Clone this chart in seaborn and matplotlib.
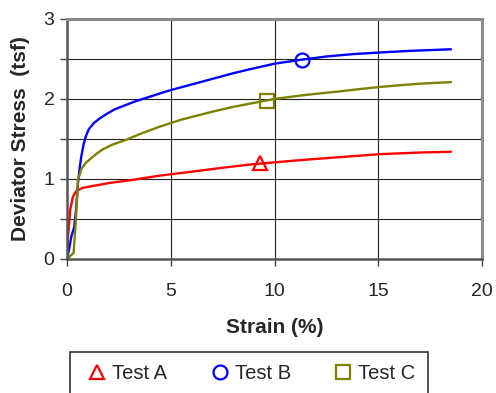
import matplotlib
matplotlib.use('Agg')
import matplotlib.pyplot as plt
from matplotlib.ticker import MultipleLocator, FixedLocator, NullFormatter
import seaborn as sns
import pandas as pd

# strain (%) vs deviator stress (tsf)
strain_a = [0, 0.05, 0.16, 0.29, 0.45, 0.77, 1.2, 2.06, 3.2, 4.43, 6.0, 7.5, 8.8, 11.0, 13.0, 15.1, 17.0, 18.5]
stress_a = [0, 0.28, 0.62, 0.78, 0.85, 0.89, 0.91, 0.95, 0.99, 1.04, 1.09, 1.14, 1.18, 1.23, 1.27, 1.31, 1.33, 1.34]

strain_b = [0, 0.1, 0.21, 0.35, 0.45, 0.53, 0.62, 0.69, 0.8, 0.92, 1.05, 1.3, 1.6, 1.9, 2.3, 2.8, 3.3, 3.9, 4.5, 5.0,
            6.0, 7.0, 8.0, 8.8, 10.0, 11.3, 12.5, 13.8, 15.1, 16.5, 17.5, 18.5]
stress_b = [0, 0.12, 0.28, 0.4, 0.65, 0.95, 1.15, 1.28, 1.43, 1.54, 1.62, 1.7, 1.76, 1.81, 1.87, 1.92, 1.97, 2.02, 2.07, 2.11,
            2.18, 2.25, 2.32, 2.37, 2.44, 2.49, 2.53, 2.56, 2.58, 2.6, 2.61, 2.62]

strain_c = [0, 0.21, 0.32, 0.42, 0.53, 0.69, 0.9, 1.17, 1.45, 1.73, 2.2, 2.86, 3.5, 4.43, 5.5, 7.0, 8.0, 8.8,
            10.0, 11.5, 13.0, 14.0, 15.1, 16.0, 17.0, 18.5]
stress_c = [0, 0.05, 0.075, 0.45, 0.99, 1.12, 1.2, 1.26, 1.32, 1.37, 1.43, 1.49, 1.56, 1.65, 1.74, 1.84, 1.9, 1.94,
            2.0, 2.05, 2.09, 2.12, 2.15, 2.17, 2.19, 2.21]

# single marker per test
mark_strain = [9.3, 11.3, 9.65]
mark_stress = [1.2, 2.49, 1.98]

tests = ['Test A', 'Test B', 'Test C']
colors = ['#ff0000', '#0000ff', '#808000']
markers = ['^', 'o', 's']

df = pd.concat([
    pd.DataFrame({'strain': strain_a, 'stress': stress_a, 'test': 'Test A'}),
    pd.DataFrame({'strain': strain_b, 'stress': stress_b, 'test': 'Test B'}),
    pd.DataFrame({'strain': strain_c, 'stress': stress_c, 'test': 'Test C'}),
])
marks = pd.DataFrame({'strain': mark_strain, 'stress': mark_stress, 'test': tests})

sns.set_style('white')
plt.rcParams['font.family'] = ['Liberation Sans', 'DejaVu Sans']

fig = plt.figure(figsize=(4.96, 3.93), dpi=100)
ax = fig.add_axes([0.135, 0.341, 0.837, 0.611])

sns.lineplot(data=df, x='strain', y='stress', hue='test', palette=colors,
             sort=False, estimator=None, linewidth=1.7, legend=False, ax=ax)

for i, t in enumerate(tests):
    row = marks[marks['test'] == t]
    ax.plot(row['strain'], row['stress'], linestyle='none', marker=markers[i],
            markersize=10, markerfacecolor='none', markeredgecolor=colors[i],
            markeredgewidth=1.6, label=t, zorder=5)

ax.set_xlim(0, 20)
ax.set_ylim(0, 3)
ax.xaxis.set_major_locator(MultipleLocator(5))
ax.yaxis.set_major_locator(FixedLocator([0, 1, 2, 3]))
ax.yaxis.set_minor_locator(FixedLocator([0.5, 1.5, 2.5]))
ax.yaxis.set_minor_formatter(NullFormatter())
ax.grid(True, which='both', color='#222222', linewidth=0.8)
ax.set_axisbelow(True)
ax.tick_params(axis='both', which='both', direction='out', length=5, width=1,
               color='#444444', labelsize=14, pad=4, left=True, bottom=True)
ax.tick_params(axis='x', pad=12)

for side in ['left', 'bottom']:
    ax.spines[side].set_color('#555555')
    ax.spines[side].set_linewidth(1.8)
for side in ['top', 'right']:
    ax.spines[side].set_color('#8a8a8a')
    ax.spines[side].set_linewidth(2.2)

ax.set_xlabel('Strain (%)', fontsize=15, fontweight='bold', labelpad=13)
ax.set_ylabel('Deviator Stress  (tsf)', fontsize=15, fontweight='bold', labelpad=10)

leg = fig.legend(loc='upper left', bbox_to_anchor=(0.141, 0.104), ncol=3,
                 fontsize=14.5, frameon=True, fancybox=False, edgecolor='#000000',
                 handlelength=1.5, handletextpad=0.0, columnspacing=1.85,
                 borderpad=0.6, borderaxespad=0.0)
leg.get_frame().set_linewidth(1.2)

fig.savefig('out.png', dpi=100)
